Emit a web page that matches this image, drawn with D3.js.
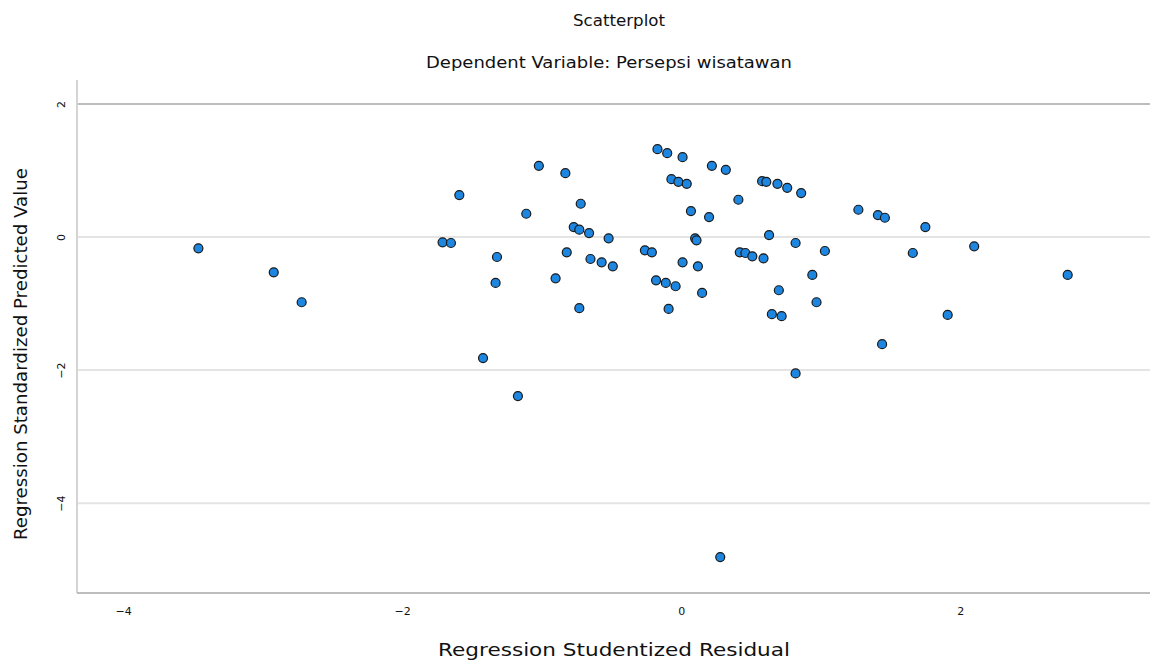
<!DOCTYPE html>
<html>
<head>
<meta charset="utf-8">
<script src="https://cdn.jsdelivr.net/npm/d3@7"></script>
<style>
  body { margin: 0; background: #fff; }
  svg text { font-family: "DejaVu Sans", "Liberation Sans", Arial, sans-serif; fill: #111; }
</style>
</head>
<body>
<div id="chart"></div>
<script>
// residuals (x) and standardized predicted values (y)
var residuals = [
    -3.46, -2.92, -2.72, -1.59, -1.71, -1.65, -1.32, -1.33, -1.42, -1.17,
    -1.02, -1.11, -0.83, -0.72, -0.77, -0.73, -0.66, -0.52, -0.82, -0.90,
    -0.65, -0.57, -0.49, -0.73, -0.17, -0.10, 0.01, 0.22, 0.32, -0.07,
    -0.02, 0.04, 0.58, 0.61, 0.69, 0.76, 0.86, 0.41, 0.07, 0.20,
    1.27, 1.41, 1.46, 1.75, 0.10, 0.11, 0.63, 0.82, 1.03, -0.26,
    -0.21, 0.42, 0.46, 0.51, 0.59, 0.01, 0.12, 0.94, -0.18, -0.11,
    -0.04, 0.70, 0.15, 0.97, -0.09, 0.65, 0.72, 1.44, 0.82, 1.66,
    2.10, 2.77, 1.91, 0.28
]
var predicted = [
    -0.17, -0.53, -0.98, 0.63, -0.08, -0.09, -0.30, -0.69, -1.82, -2.39,
    1.07, 0.35, 0.96, 0.50, 0.15, 0.11, 0.06, -0.02, -0.23, -0.62,
    -0.33, -0.38, -0.44, -1.07, 1.32, 1.26, 1.20, 1.07, 1.01, 0.87,
    0.83, 0.80, 0.84, 0.83, 0.80, 0.74, 0.66, 0.56, 0.39, 0.30,
    0.41, 0.33, 0.29, 0.15, -0.02, -0.05, 0.03, -0.09, -0.21, -0.20,
    -0.23, -0.23, -0.24, -0.29, -0.32, -0.38, -0.44, -0.57, -0.65, -0.69,
    -0.74, -0.80, -0.84, -0.98, -1.08, -1.16, -1.19, -1.61, -2.05, -0.24,
    -0.14, -0.57, -1.17, -4.81
]
var xTicks = [-4, -2, 0, 2]
var yTicks = [2, 0, -2, -4]

var points = residuals.map(function(r, i) {
    return { x: r, y: predicted[i] }
})

var svgWidth = 1153
var svgHeight = 664
var margin = { top: 80, right: 3, bottom: 71, left: 77 }
var width = svgWidth - margin.left - margin.right
var height = svgHeight - margin.top - margin.bottom

var svg = d3.select("#chart").append("svg")
    .attr("width", svgWidth)
    .attr("height", svgHeight)

var chart = svg.append("g")
    .attr("transform", "translate(" + margin.left + "," + margin.top + ")")

var x = d3.scaleLinear().domain([-4.33, 3.36]).range([0, width])
var y = d3.scaleLinear().domain([-5.35, 2.36]).range([height, 0])

// gridlines
chart.selectAll("line.grid").data(yTicks)
    .enter().append("line").attr("class", "grid")
    .attr("x1", 0).attr("x2", width)
    .attr("y1", function(d) { return y(d) })
    .attr("y2", function(d) { return y(d) })
    .attr("stroke", function(d) { return d == 2 ? "#bdbdbd" : "#e4e4e4" })
    .attr("stroke-width", 2)

// axis frame (left and bottom)
chart.append("line").attr("x1", 0).attr("x2", 0).attr("y1", 0).attr("y2", height)
    .attr("stroke", "#d4d4d4").attr("stroke-width", 2)
chart.append("line").attr("x1", 0).attr("x2", width).attr("y1", height).attr("y2", height)
    .attr("stroke", "#bdbdbd").attr("stroke-width", 2)

var xAxis = d3.axisBottom(x).tickValues(xTicks).tickSize(0).tickPadding(14)
    .tickFormat(d3.format("d"))
chart.append("g")
    .attr("transform", "translate(0," + height + ")")
    .call(function(g) { styleAxis(g, xAxis) })

var yAxis = d3.axisLeft(y).tickValues(yTicks).tickSize(0).tickPadding(14)
    .tickFormat(d3.format("d"))
chart.append("g")
    .call(function(g) { styleAxis(g, yAxis) })
    .selectAll("text")
    .attr("transform", "rotate(-90)")
    .attr("text-anchor", "middle")
    .attr("x", 0).attr("dy", "0.32em")
    .attr("y", -16)

chart.selectAll("circle.pt").data(points)
    .enter().append("circle").attr("class", "pt")
    .attr("cx", function(d) { return x(d.x) })
    .attr("cy", function(d) { return y(d.y) })
    .attr("r", 4.5)
    .attr("fill", "#1d86e0")
    .attr("stroke", "#1a1a1a")
    .attr("stroke-width", 1.2)

// titles
svg.append("text").attr("x", 619).attr("y", 26)
    .attr("text-anchor", "middle").style("font-size", "15px")
    .attr("textLength", 92).attr("lengthAdjust", "spacingAndGlyphs")
    .text("Scatterplot")
svg.append("text").attr("x", 609).attr("y", 68)
    .attr("text-anchor", "middle").style("font-size", "16px")
    .attr("textLength", 366).attr("lengthAdjust", "spacingAndGlyphs")
    .text("Dependent Variable: Persepsi wisatawan")
svg.append("text").attr("x", 614).attr("y", 656)
    .attr("text-anchor", "middle").style("font-size", "17px")
    .attr("textLength", 352).attr("lengthAdjust", "spacingAndGlyphs")
    .text("Regression Studentized Residual")
svg.append("text")
    .attr("transform", "translate(27,354) rotate(-90)")
    .attr("text-anchor", "middle").style("font-size", "17px")
    .attr("textLength", 372).attr("lengthAdjust", "spacingAndGlyphs")
    .text("Regression Standardized Predicted Value")

function styleAxis(g, axis) {
    g.call(axis)
    g.select(".domain").remove()
    g.selectAll("text").style("font-size", "11px").style("fill", "#111")
}
</script>
</body>
</html>
